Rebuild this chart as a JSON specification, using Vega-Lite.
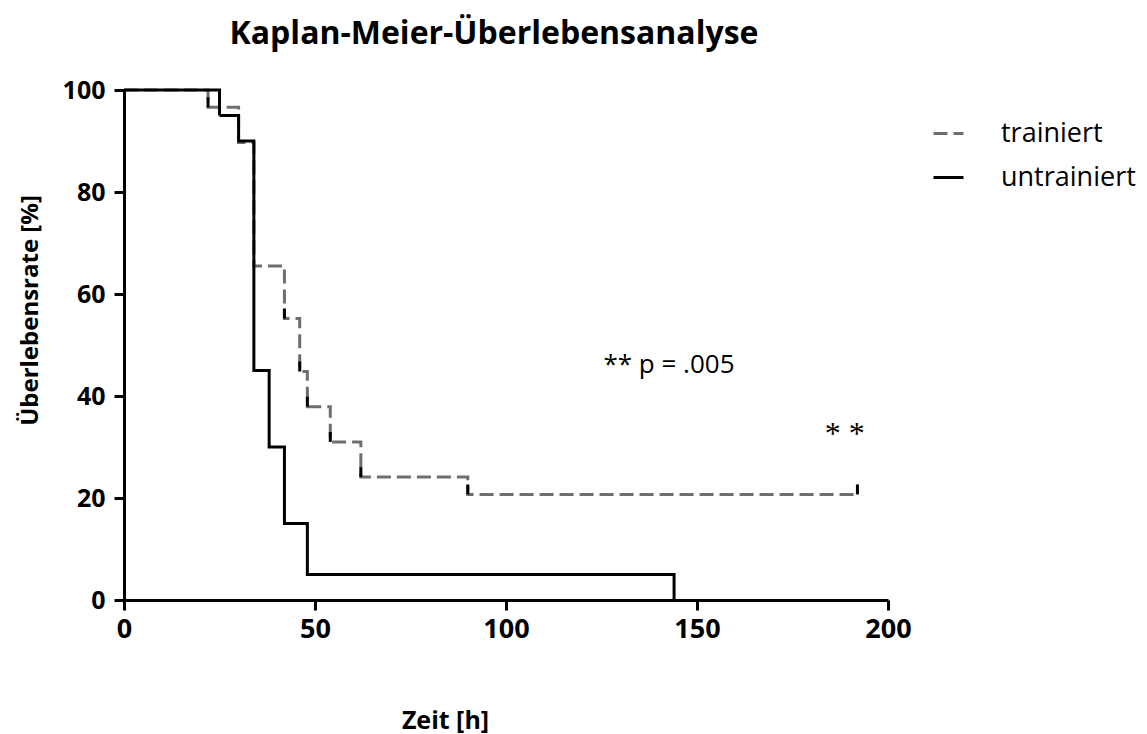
{
  "$schema": "https://vega.github.io/schema/vega-lite/v6.json",
  "width": 764,
  "height": 510,
  "autosize": "none",
  "padding": {"left": 124, "top": 90, "right": 259, "bottom": 134},
  "background": "white",
  "config": {"view": {"stroke": null}, "font": "Open Sans"},
  "title": {"text": "Kaplan-Meier-Überlebensanalyse", "fontSize": 32, "fontWeight": "bold", "font": "Open Sans", "anchor": "middle", "dx": -12, "offset": 27, "color": "black"},
  "datasets": {
    "curves": [
      {"gruppe": "trainiert", "zeit": 0, "rate": 100},
      {"gruppe": "trainiert", "zeit": 22, "rate": 96.6},
      {"gruppe": "trainiert", "zeit": 30, "rate": 89.7},
      {"gruppe": "trainiert", "zeit": 34, "rate": 65.5},
      {"gruppe": "trainiert", "zeit": 42, "rate": 55.2},
      {"gruppe": "trainiert", "zeit": 46, "rate": 44.8},
      {"gruppe": "trainiert", "zeit": 48, "rate": 37.9},
      {"gruppe": "trainiert", "zeit": 54, "rate": 31.0},
      {"gruppe": "trainiert", "zeit": 62, "rate": 24.1},
      {"gruppe": "trainiert", "zeit": 90, "rate": 20.7},
      {"gruppe": "trainiert", "zeit": 192, "rate": 20.7},
      {"gruppe": "untrainiert", "zeit": 0, "rate": 100},
      {"gruppe": "untrainiert", "zeit": 25, "rate": 95},
      {"gruppe": "untrainiert", "zeit": 30, "rate": 90},
      {"gruppe": "untrainiert", "zeit": 34, "rate": 45},
      {"gruppe": "untrainiert", "zeit": 38, "rate": 30},
      {"gruppe": "untrainiert", "zeit": 42, "rate": 15},
      {"gruppe": "untrainiert", "zeit": 48, "rate": 5},
      {"gruppe": "untrainiert", "zeit": 144, "rate": 0}
    ],
    "ticks": [
      {"zeit": 22, "rate": 96.6},
      {"zeit": 42, "rate": 55.2},
      {"zeit": 46, "rate": 44.8},
      {"zeit": 48, "rate": 37.9},
      {"zeit": 54, "rate": 31.0},
      {"zeit": 62, "rate": 24.1},
      {"zeit": 90, "rate": 20.7},
      {"zeit": 192, "rate": 20.7}
    ],
    "notes": [
      {"zeit": 125.5, "rate": 46, "text": "** p = .005", "kind": "p"},
      {"zeit": 188.7, "rate": 32.5, "text": "* *", "kind": "star"}
    ]
  },
  "layer": [
    {
      "data": {"name": "curves"},
      "mark": {"type": "line", "interpolate": "step-after", "strokeWidth": 3, "strokeCap": "butt"},
      "encoding": {
        "x": {"field": "zeit", "type": "quantitative",
          "scale": {"domain": [0, 200], "nice": false, "zero": true},
          "axis": {"title": "Zeit [h]", "values": [0, 50, 100, 150, 200], "grid": false, "labelFlush": false, "labelOverlap": false,
            "domainColor": "black", "domainWidth": 3, "tickColor": "black", "tickWidth": 3, "tickSize": 10,
            "labelFontSize": 27, "labelFontWeight": "bold", "labelColor": "black", "labelPadding": 6, "labelFont": "Open Sans",
            "titleFontSize": 25, "titleFontWeight": "bold", "titleColor": "black", "titleFont": "Open Sans",
            "titleX": 321, "titleY": 120, "titleAnchor": null, "titleAlign": "center", "titleBaseline": "middle"}},
        "y": {"field": "rate", "type": "quantitative",
          "scale": {"domain": [0, 100], "nice": false},
          "axis": {"title": "Überlebensrate [%]", "values": [0, 20, 40, 60, 80, 100], "grid": false, "labelFlush": false, "labelOverlap": false,
            "domainColor": "black", "domainWidth": 3, "tickColor": "black", "tickWidth": 3, "tickSize": 10,
            "labelFontSize": 25, "labelFontWeight": "bold", "labelColor": "black", "labelPadding": 9, "labelFont": "Open Sans",
            "titleFontSize": 24, "titleFontWeight": "bold", "titleColor": "black", "titleFont": "Open Sans",
            "titleX": -94, "titleY": 220, "titleAngle": -90, "titleAlign": "center", "titleBaseline": "middle"}},
        "color": {"field": "gruppe", "type": "nominal",
          "scale": {"domain": ["trainiert", "untrainiert"], "range": ["#6e6e6e", "#000000"]},
          "legend": {"title": null, "orient": "none", "legendX": 808, "legendY": 27,
            "symbolType": "stroke", "symbolSize": 900, "symbolStrokeWidth": 3,
            "labelFontSize": 27, "labelFont": "Open Sans", "labelColor": "black", "labelOffset": 36, "rowPadding": 14}},
        "strokeDash": {"field": "gruppe", "type": "nominal",
          "scale": {"domain": ["trainiert", "untrainiert"], "range": [[14, 6], [1, 0]]},
          "legend": null}
      }
    },
    {
      "data": {"name": "ticks"},
      "mark": {"type": "point", "shape": "M0,0L0,-1", "size": 400, "filled": false, "stroke": "black", "strokeWidth": 3, "opacity": 1},
      "encoding": {
        "x": {"field": "zeit", "type": "quantitative"},
        "y": {"field": "rate", "type": "quantitative"}
      }
    },
    {
      "data": {"name": "notes"},
      "transform": [{"filter": "datum.kind === 'p'"}],
      "mark": {"type": "text", "align": "left", "baseline": "middle", "fontSize": 26, "font": "Open Sans", "color": "black"},
      "encoding": {
        "x": {"field": "zeit", "type": "quantitative"},
        "y": {"field": "rate", "type": "quantitative"},
        "text": {"field": "text"}
      }
    },
    {
      "data": {"name": "notes"},
      "transform": [{"filter": "datum.kind === 'star'"}],
      "mark": {"type": "text", "align": "center", "baseline": "middle", "fontSize": 32, "font": "Liberation Serif", "color": "black"},
      "encoding": {
        "x": {"field": "zeit", "type": "quantitative"},
        "y": {"field": "rate", "type": "quantitative"},
        "text": {"field": "text"}
      }
    }
  ]
}
